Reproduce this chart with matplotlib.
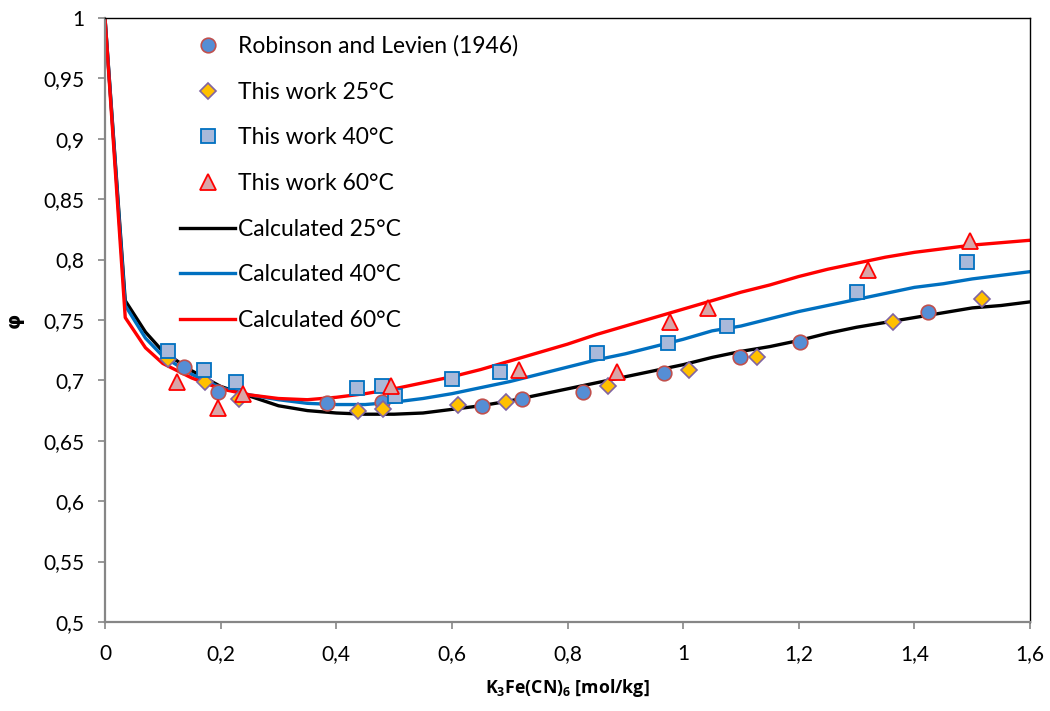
import matplotlib
matplotlib.use("Agg")
import matplotlib.pyplot as plt
from matplotlib.ticker import FuncFormatter, MultipleLocator

plt.rcParams["font.family"] = ["Lato", "DejaVu Sans"]
plt.rcParams["font.size"] = 14
plt.rcParams["mathtext.fontset"] = "custom"
plt.rcParams["mathtext.rm"] = "Open Sans"
plt.rcParams["mathtext.bf"] = "Open Sans:bold"

# calculated curves
x_calc = [0, 0.035, 0.07, 0.1, 0.15, 0.2, 0.25, 0.3, 0.35, 0.4, 0.45, 0.5, 0.55, 0.6,
          0.65, 0.7, 0.75, 0.8, 0.85, 0.9, 0.95, 1.0, 1.05, 1.1, 1.15, 1.2, 1.25,
          1.3, 1.35, 1.4, 1.45, 1.5, 1.55, 1.6]
calc_25 = [1, 0.766, 0.740, 0.724, 0.708, 0.695, 0.687, 0.679, 0.675, 0.673, 0.672,
           0.672, 0.673, 0.676, 0.679, 0.683, 0.688, 0.693, 0.698, 0.703, 0.708,
           0.713, 0.719, 0.724, 0.728, 0.733, 0.739, 0.744, 0.748, 0.752, 0.756,
           0.760, 0.762, 0.765]
calc_40 = [1, 0.762, 0.735, 0.720, 0.705, 0.694, 0.688, 0.684, 0.681, 0.680, 0.680,
           0.682, 0.685, 0.689, 0.694, 0.699, 0.705, 0.711, 0.717, 0.722, 0.728,
           0.734, 0.741, 0.745, 0.751, 0.757, 0.762, 0.767, 0.772, 0.777, 0.780,
           0.784, 0.787, 0.790]
calc_60 = [1, 0.752, 0.727, 0.714, 0.702, 0.693, 0.688, 0.685, 0.684, 0.686, 0.689,
           0.693, 0.698, 0.703, 0.709, 0.716, 0.723, 0.730, 0.738, 0.745, 0.752,
           0.759, 0.766, 0.773, 0.779, 0.786, 0.792, 0.797, 0.802, 0.806, 0.809,
           0.812, 0.814, 0.816]

# experimental data
rob_x = [0.137, 0.196, 0.384, 0.479, 0.652, 0.721, 0.827, 0.967, 1.098, 1.202, 1.424]
rob_y = [0.711, 0.690, 0.681, 0.682, 0.679, 0.685, 0.690, 0.706, 0.719, 0.732, 0.757]

w25_x = [0.109, 0.173, 0.232, 0.438, 0.481, 0.611, 0.694, 0.870, 1.010, 1.128, 1.363, 1.517]
w25_y = [0.718, 0.699, 0.685, 0.675, 0.676, 0.680, 0.682, 0.695, 0.709, 0.719, 0.748, 0.767]

w40_x = [0.109, 0.171, 0.227, 0.436, 0.479, 0.502, 0.600, 0.683, 0.851, 0.974, 1.076, 1.301, 1.491]
w40_y = [0.724, 0.709, 0.699, 0.694, 0.695, 0.687, 0.701, 0.707, 0.723, 0.731, 0.745, 0.773, 0.798]

w60_x = [0.125, 0.196, 0.239, 0.495, 0.716, 0.886, 0.977, 1.043, 1.320, 1.496]
w60_y = [0.699, 0.677, 0.689, 0.695, 0.709, 0.707, 0.748, 0.760, 0.791, 0.815]

fig = plt.figure(figsize=(10.5, 7.11), dpi=100)
ax = fig.add_axes([0.1, 0.1252, 0.881, 0.8495])

l25, = ax.plot(x_calc, calc_25, color="black", lw=2.4, zorder=2)
l40, = ax.plot(x_calc, calc_40, color="#0070C0", lw=2.4, zorder=2)
l60, = ax.plot(x_calc, calc_60, color="#FF0000", lw=2.4, zorder=2)

mk = dict(linestyle="none", zorder=3)
p1, = ax.plot(rob_x, rob_y, marker="o", ms=10.5, mfc="#558ED5", mec="#C0504D", mew=1.2, **mk)
p2, = ax.plot(w25_x, w25_y, marker="D", ms=8.3, mfc="#FFC000", mec="#8064A2", mew=1.2, **mk)
p3, = ax.plot(w40_x, w40_y, marker="s", ms=10.5, mfc="#A9B9DA", mec="#0070C0", mew=1.3, **mk)
p4, = ax.plot(w60_x, w60_y, marker="^", ms=11.5, mfc="#D9A5A8", mec="#FF0000", mew=1.3, **mk)

ax.set_xlim(0, 1.6)
ax.set_ylim(0.5, 1)
ax.xaxis.set_major_locator(MultipleLocator(0.2))
ax.yaxis.set_major_locator(MultipleLocator(0.05))
comma = FuncFormatter(lambda v, p: ("%g" % round(v, 3)).replace(".", ","))
ax.xaxis.set_major_formatter(comma)
ax.yaxis.set_major_formatter(comma)
ax.tick_params(direction="out", length=5, width=1.2, color="#868686", labelsize=15, pad=10)
ax.tick_params(axis="x", pad=11)

for s in ["left", "bottom"]:
    ax.spines[s].set_color("#868686")
    ax.spines[s].set_linewidth(1.6)
for s in ["top", "right"]:
    ax.spines[s].set_color("black")
    ax.spines[s].set_linewidth(1.0)

ax.set_xlabel(r"$\mathbf{K_3Fe(CN)_6}$ [mol/kg]", fontsize=12.8, fontweight="bold",
              family="Open Sans", labelpad=9)
ax.set_ylabel("φ", fontsize=14, fontweight="bold", family="DejaVu Sans", labelpad=14)

ax.legend([p1, p2, p3, p4, l25, l40, l60],
          ["Robinson and Levien (1946)", "This work 25°C", "This work 40°C",
           "This work 60°C", "Calculated 25°C", "Calculated 40°C", "Calculated 60°C"],
          loc="upper left", bbox_to_anchor=(0.163, 0.963), bbox_transform=fig.transFigure,
          frameon=False, fontsize=16.5, handlelength=2.4, handletextpad=0.1,
          labelspacing=1.075, borderaxespad=0)

fig.savefig("out.png", dpi=100)
